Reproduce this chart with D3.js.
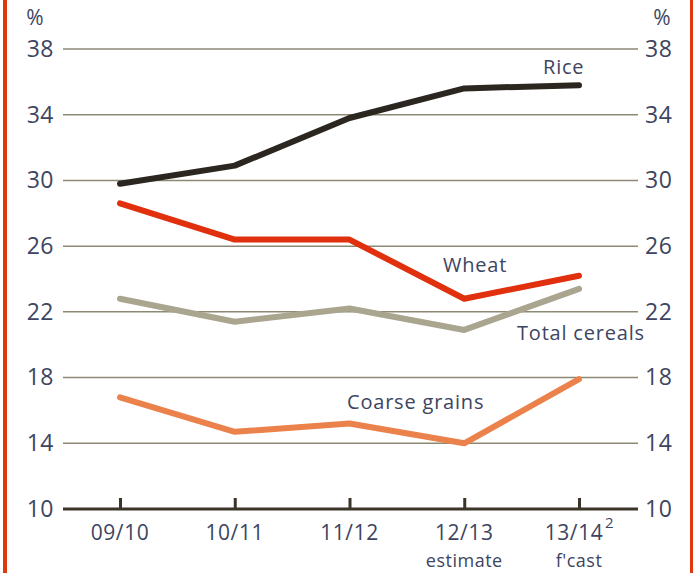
<!DOCTYPE html>
<html>
<head>
<meta charset="utf-8">
<script src="https://cdn.jsdelivr.net/npm/d3@7"></script>
<style>
  body { margin: 0; background: #fff; }
  text { font-family: "Open Sans", sans-serif; fill: #3d4560; }
</style>
</head>
<body>
<svg id="chart"></svg>
<script>
const seasons = ["09/10", "10/11", "11/12", "12/13", "13/14"];
const subLabels = ["", "", "", "estimate", "f'cast"];
const yTicks = [10, 14, 18, 22, 26, 30, 34, 38];

const rice = [29.8, 30.9, 33.8, 35.6, 35.8];
const wheat = [28.6, 26.4, 26.4, 22.8, 24.2];
const totalCereals = [22.8, 21.4, 22.2, 20.9, 23.4];
const coarseGrains = [16.8, 14.7, 15.2, 14.0, 17.9];

const series = [
  {name: "Total cereals", values: totalCereals, color: "#aaa58f", lx: 517, ly: 340},
  {name: "Coarse grains", values: coarseGrains, color: "#eb824c", lx: 347, ly: 409},
  {name: "Wheat", values: wheat, color: "#e0300e", lx: 443, ly: 272},
  {name: "Rice", values: rice, color: "#2b2720", lx: 543, ly: 74}
];

const svgWidth = 696, svgHeight = 573;
const chart = d3.select("#chart").attr("width", svgWidth).attr("height", svgHeight);

// red border lines on both sides
chart.append("rect").attr("x", 3).attr("y", 0).attr("width", 4).attr("height", svgHeight).attr("fill", "#e0380e");
chart.append("rect").attr("x", 690).attr("y", 0).attr("width", 3).attr("height", svgHeight).attr("fill", "#e0380e");

const xScale = d3.scalePoint().domain(seasons).range([120, 579]);
const yScale = d3.scaleLinear().domain([10, 38]).range([509, 49]);
const gridLeft = 63, gridRight = 638;

// gridlines
chart.append("g").selectAll("line")
  .data(yTicks.filter(d => d !== 10))
  .enter().append("line")
  .attr("x1", gridLeft).attr("x2", gridRight)
  .attr("y1", d => yScale(d)).attr("y2", d => yScale(d))
  .attr("stroke", "#8e8975").attr("stroke-width", 1.5);

// y labels left and right
const yAxisL = d3.axisLeft(yScale).tickValues(yTicks).tickSize(0).tickPadding(0);
const gl = chart.append("g").attr("transform", "translate(54,0)").call(yAxisL);
const yAxisR = d3.axisRight(yScale).tickValues(yTicks).tickSize(0).tickPadding(0);
const gr = chart.append("g").attr("transform", "translate(645,0)").call(yAxisR);
[gl, gr].forEach(g => {
  g.select(".domain").remove();
  g.selectAll("text").attr("font-size", 23).attr("letter-spacing", 0.5)
    .attr("font-family", "Open Sans").attr("fill", "#3d4a6a");
});

chart.append("text").attr("x", 35).attr("y", 25).attr("text-anchor", "middle").attr("font-size", 21).text("%");
chart.append("text").attr("x", 662).attr("y", 25).attr("text-anchor", "middle").attr("font-size", 21).text("%");

// x axis baseline
chart.append("line")
  .attr("x1", gridLeft).attr("x2", gridRight)
  .attr("y1", yScale(10)).attr("y2", yScale(10))
  .attr("stroke", "#3a3528").attr("stroke-width", 3);

const xAxis = d3.axisTop(xScale).tickSize(12).tickFormat("");
const gx = chart.append("g").attr("transform", "translate(0," + (yScale(10) + 1) + ")").call(xAxis);
gx.select(".domain").remove();
gx.selectAll("line").attr("stroke", "#3a3528").attr("stroke-width", 3);

// x labels
chart.append("g").selectAll("text")
  .data(seasons).enter().append("text")
  .attr("x", d => xScale(d) - (d === "13/14" ? 5 : 0)).attr("y", 540)
  .attr("text-anchor", "middle").attr("font-size", 21).attr("letter-spacing", 0.6)
  .text(d => d);
chart.append("g").selectAll("text")
  .data(seasons).enter().append("text")
  .attr("x", d => xScale(d)).attr("y", 567)
  .attr("text-anchor", "middle").attr("font-size", 18).attr("letter-spacing", 0.5)
  .text((d, i) => subLabels[i]);
chart.append("text").attr("x", xScale("13/14") + 26).attr("y", 528)
  .attr("font-size", 15).text("2");

// series lines
const line = d3.line()
  .x((d, i) => xScale(seasons[i]))
  .y(d => yScale(d))
  .curve(d3.curveLinear);

chart.append("g").selectAll("path")
  .data(series).enter().append("path")
  .attr("d", d => line(d.values))
  .attr("fill", "none")
  .attr("stroke", d => d.color)
  .attr("stroke-width", 6)
  .attr("stroke-linejoin", "round")
  .attr("stroke-linecap", "round");

chart.append("g").selectAll("text")
  .data(series).enter().append("text")
  .attr("x", d => d.lx).attr("y", d => d.ly)
  .attr("font-size", 20).attr("letter-spacing", 0.8)
  .text(d => d.name);
</script>
</body>
</html>
